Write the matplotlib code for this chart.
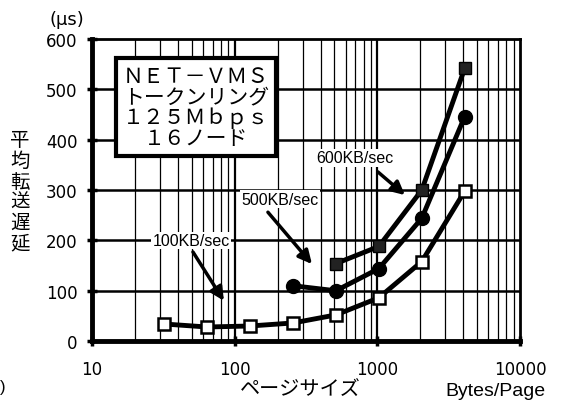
import matplotlib
matplotlib.use("Agg")
import matplotlib.pyplot as plt
import numpy as np

plt.rcParams['font.family'] = ['Liberation Sans', 'Noto Sans CJK JP', 'DejaVu Sans']

# Data
x100 = [32, 64, 128, 256, 512, 1024, 2048, 4096]
y100 = [34, 28, 30, 36, 52, 86, 158, 298]
x500 = [256, 512, 1024, 2048, 4096]
y500 = [110, 100, 144, 244, 446]
x600 = [512, 1024, 2048, 4096]
y600 = [154, 188, 300, 542]
xticks = [10, 100, 1000, 10000]
yticks = [0, 100, 200, 300, 400, 500, 600]

fig = plt.figure(figsize=(5.61, 4.02), dpi=100)
ax = fig.add_axes([0.164, 0.149, 0.763, 0.7515])
ax.set_xscale('log')
ax.set_xlim(10, 10000)
ax.set_ylim(0, 600)

# grid
for dec in [10, 100, 1000]:
    for m in range(2, 10):
        ax.axvline(dec * m, color='black', lw=0.9, zorder=1)
for dec in [100, 1000]:
    ax.axvline(dec, color='black', lw=1.6, zorder=1)
for yv in [100, 200, 300, 400, 500]:
    ax.axhline(yv, color='black', lw=1.8, zorder=1)

for s in ax.spines.values():
    s.set_linewidth(2)
ax.spines['left'].set_linewidth(3.5)
ax.spines['bottom'].set_linewidth(3.5)

ax.set_xticks(xticks)
ax.set_xticklabels([str(v) for v in xticks], family=['DejaVu Sans'])
ax.minorticks_off()
ax.set_yticks(yticks)
ax.set_yticklabels([str(v) for v in yticks], family=['DejaVu Sans'])
ax.tick_params(axis='both', length=7, width=2.5, direction='inout', labelsize=12)
ax.tick_params(axis='y', pad=7)
ax.tick_params(axis='x', pad=10)

# series
ax.plot(x100, y100, color='black', lw=3.5, marker='s', ms=9, mfc='white', mec='black', mew=1.8, zorder=5)
ax.plot(x500, y500, color='black', lw=3.5, marker='o', ms=10, mfc='black', mec='black', zorder=5)
ax.plot(x600, y600, color='black', lw=3.5, marker='s', ms=9, mfc='#222222', mec='black', zorder=5)

# info box
ax.text(0.243, 0.775, 'ＮＥＴ－ＶＭＳ\nトークンリング\n１２５Ｍｂｐｓ\n１６ノード',
        transform=ax.transAxes, ha='center', va='center', fontsize=15,
        family=['Noto Sans CJK JP'], linespacing=0.92, zorder=7,
        bbox=dict(boxstyle='square,pad=0.35', fc='white', ec='black', lw=3))

# annotations
bb = dict(boxstyle='square,pad=0.08', fc='white', ec='none')
ap = dict(arrowstyle='-|>', color='black', lw=2.5, mutation_scale=20, shrinkA=0, shrinkB=0)
ax.text(49.5, 200, '100KB/sec', ha='center', va='center', fontsize=11.5, bbox=bb, zorder=8)
ax.annotate('', xy=(84, 80), xytext=(51, 177), arrowprops=ap, zorder=8)
ax.text(209, 282, '500KB/sec', ha='center', va='center', fontsize=11.5, bbox=bb, zorder=8)
ax.annotate('', xy=(348, 153), xytext=(171, 256), arrowprops=ap, zorder=8)
ax.text(692, 364, '600KB/sec', ha='center', va='center', fontsize=11.5, bbox=bb, zorder=8)
ax.annotate('', xy=(1560, 290), xytext=(1009, 336), arrowprops=ap, zorder=8)

# labels
fig.text(67 / 561, 1 - 20 / 402, '(μs)', ha='center', va='center', fontsize=13,
         family=['DejaVu Sans'])
ylab = '平均転送遅延'
for i, ch in enumerate(ylab):
    fig.text(20 / 561, 1 - (141 + i * 20.5) / 402, ch, ha='center', va='center',
             fontsize=14, family=['Noto Sans CJK JP'])
fig.text(300 / 561, 1 - 390 / 402, 'ページサイズ', ha='center', va='center', fontsize=14.5,
         family=['Noto Sans CJK JP'])
fig.text(495 / 561, 1 - 392 / 402, 'Bytes/Page', ha='center', va='center', fontsize=14)
fig.text(3 / 561, 1 - 388 / 402, ')', ha='center', va='center', fontsize=12)

fig.savefig('out.png', dpi=100)
